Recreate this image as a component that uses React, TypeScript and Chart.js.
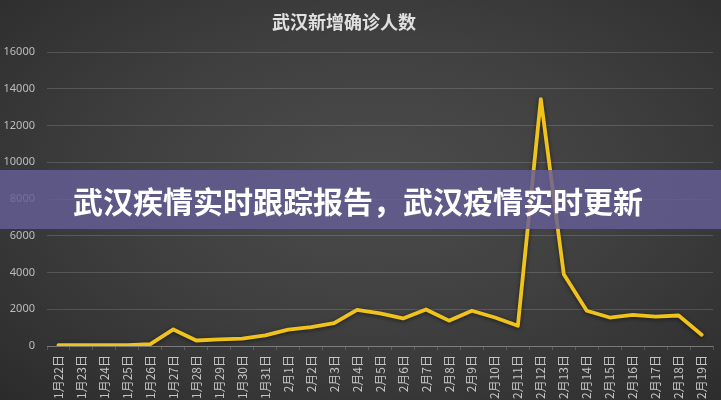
import React, { useEffect, useRef } from "react";
import { Chart, registerables } from "chart.js";

Chart.register(...registerables);

const titleText = "武汉新增确诊人数";
const bannerText = "武汉疾情实时跟踪报告，武汉疫情实时更新";

const dayLabels: string[] = [
  "1月22日", "1月23日", "1月24日", "1月25日", "1月26日", "1月27日", "1月28日",
  "1月29日", "1月30日", "1月31日", "2月1日", "2月2日", "2月3日", "2月4日",
  "2月5日", "2月6日", "2月7日", "2月8日", "2月9日", "2月10日", "2月11日",
  "2月12日", "2月13日", "2月14日", "2月15日", "2月16日", "2月17日", "2月18日",
  "2月19日",
];

const newCases: number[] = [
  50, 50, 50, 40, 100, 900, 300, 360, 400, 580, 890, 1030, 1240, 1970,
  1770, 1500, 1990, 1380, 1920, 1550, 1100, 13440, 3900, 1920, 1550, 1690,
  1600, 1660, 615,
];

const yMax = 16000;
const yStep = 2000;

const glowPlugin = {
  id: "lineGlow",
  beforeDatasetDraw(chart: any) {
    const ctx = chart.ctx;
    ctx.save();
    ctx.shadowColor = "rgba(0,0,0,0.55)";
    ctx.shadowBlur = 4;
    ctx.shadowOffsetY = 1;
  },
  afterDatasetDraw(chart: any) {
    chart.ctx.restore();
  },
};

export default function App() {
  const canvasRef = useRef<HTMLCanvasElement | null>(null);

  useEffect(() => {
    if (!canvasRef.current) return;
    const chart = new Chart(canvasRef.current, {
      type: "line",
      data: {
        labels: dayLabels,
        datasets: [
          {
            data: newCases,
            borderColor: "#efc21c",
            borderWidth: 3.8,
            pointRadius: 0,
            tension: 0,
            fill: false,
            borderJoinStyle: "round",
            borderCapStyle: "round",
          },
        ],
      },
      options: {
        animation: false,
        responsive: false,
        maintainAspectRatio: false,
        layout: { padding: { top: 52, right: 0, bottom: 0, left: 0 } },
        plugins: {
          legend: { display: false },
          tooltip: { enabled: false },
          title: { display: false },
        },
        scales: {
          x: {
            offset: true,
            grid: {
              offset: true,
              drawOnChartArea: false,
              drawTicks: true,
              tickLength: 4,
              color: "rgba(255,255,255,0.18)",
            },
            border: { display: true, color: "rgba(255,255,255,0.22)", width: 1 },
            ticks: {
              autoSkip: false,
              maxRotation: 90,
              minRotation: 90,
              padding: 5,
              color: "#c4c4c4",
              font: { family: "'Noto Sans CJK SC', 'Noto Sans', sans-serif", size: 12 },
            },
            afterFit(scale: any) {
              scale.height = 54;
            },
          },
          y: {
            min: 0,
            max: yMax,
            ticks: {
              stepSize: yStep,
              padding: 12,
              color: "#bdbdbd",
              font: { family: "'Noto Sans', sans-serif", size: 11 },
              callback: (v: any) => String(v),
            },
            grid: {
              drawTicks: false,
              color: "rgba(255,255,255,0.15)",
              lineWidth: 1,
            },
            border: { display: false },
            afterFit(scale: any) {
              scale.width = 47;
            },
          },
        },
      },
      plugins: [glowPlugin],
    } as any);
    return () => chart.destroy();
  }, []);

  return (
    <div
      style={{
        position: "fixed",
        left: 0,
        top: 0,
        width: 721,
        height: 400,
        overflow: "hidden",
        background:
          "radial-gradient(ellipse at 52% 45%, #4c4c4c 0%, #404040 45%, #333333 80%, #2b2b2b 100%)",
      }}
    >
      <canvas
        ref={canvasRef}
        width={721}
        height={400}
        style={{ position: "absolute", left: 0, top: 0, width: 721, height: 400 }}
      />
      <div
        style={{
          position: "absolute",
          left: 344,
          top: 11,
          transform: "translateX(-50%)",
          whiteSpace: "nowrap",
          fontFamily: "'Noto Sans CJK SC', sans-serif",
          fontSize: 18,
          lineHeight: "20px",
          fontWeight: 700,
          color: "#e0e0e0",
        }}
      >
        {titleText}
      </div>
      <div
        style={{
          position: "absolute",
          left: 0,
          top: 170,
          width: 721,
          height: 59,
          background: "rgba(101,94,151,0.82)",
          display: "flex",
          alignItems: "center",
        }}
      >
        <span
          style={{
            marginLeft: 73,
            whiteSpace: "nowrap",
            fontFamily: "'Noto Sans CJK SC', sans-serif",
            fontSize: 30,
            lineHeight: "34px",
            fontWeight: 700,
            color: "#ffffff",
          }}
        >
          {bannerText}
        </span>
      </div>
    </div>
  );
}
